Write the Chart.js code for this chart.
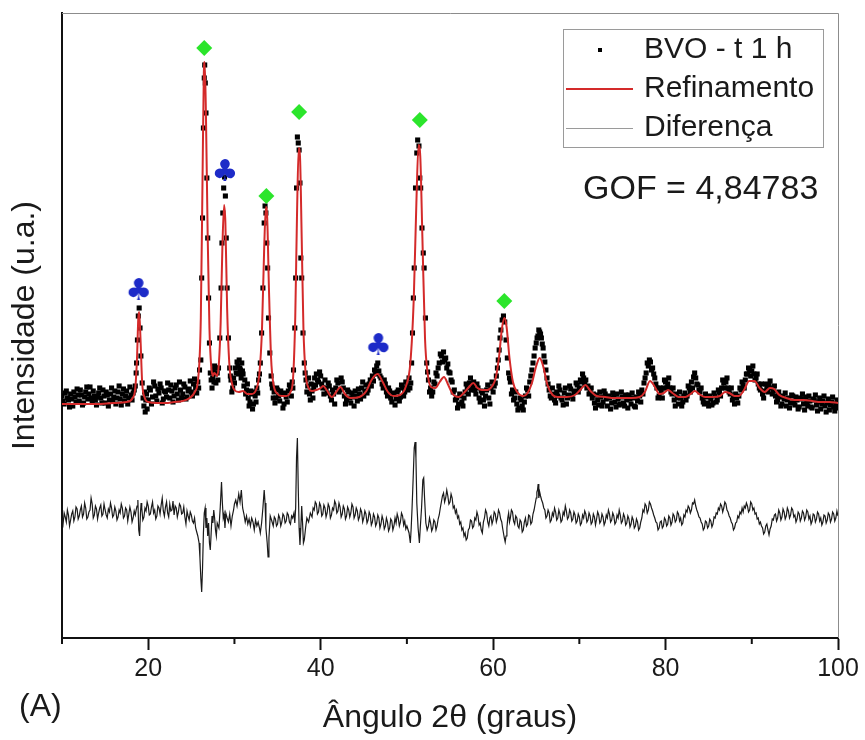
<!DOCTYPE html>
<html>
<head>
<meta charset="utf-8">
<script src="https://cdn.jsdelivr.net/npm/chart.js@4.4.0/dist/chart.umd.min.js"></script>
<style>
  html, body { margin: 0; padding: 0; background: #fff; }
  #wrap { width: 865px; height: 740px; }
</style>
</head>
<body>
<div id="wrap"><canvas id="xrd" width="865" height="740"></canvas></div>
<script>
// 2theta (graus), intensidade (u.a.)
const observed = [
  [10.000,22],[10.125,17],[10.250,14],[10.375,25],[10.500,27],[10.625,20],[10.750,18],[10.875,11],[11.000,24],[11.125,19],[11.250,12],[11.375,26],[11.500,21],[11.625,16],[11.750,29],[11.875,23],
  [12.000,17],[12.125,28],[12.250,23],[12.375,13],[12.500,15],[12.625,21],[12.750,26],[12.875,31],[13.000,19],[13.125,24],[13.250,31],[13.375,20],[13.500,16],[13.625,27],[13.750,22],[13.875,18],
  [14.000,13],[14.125,21],[14.250,25],[14.375,30],[14.500,20],[14.625,15],[14.750,28],[14.875,22],[15.000,15],[15.125,26],[15.250,23],[15.375,12],[15.500,18],[15.625,24],[15.750,30],[15.875,17],
  [16.000,21],[16.125,27],[16.250,14],[16.375,20],[16.500,26],[16.625,32],[16.750,19],[16.875,13],[17.000,24],[17.125,29],[17.250,17],[17.375,22],[17.500,27],[17.625,14],[17.750,20],[17.875,31],
  [18.000,23],[18.125,18],[18.250,25],[18.375,28],
  [18.50,32],[18.60,45],[18.65,55],[18.75,78],[18.85,102],[18.95,110],[19.05,90],[19.15,62],[19.30,35],[19.40,20],[19.50,12],[19.575,26],[19.65,6],[19.725,18],[19.80,24],[19.875,9],
  [20.000,18],[20.125,30],[20.250,28],[20.375,14],[20.500,21],[20.625,36],[20.750,32],[20.875,22],[21.000,17],[21.125,29],[21.250,25],[21.375,34],[21.500,30],[21.625,15],[21.750,19],[21.875,27],
  [22.000,26],[22.125,21],[22.250,35],[22.375,28],[22.500,20],[22.625,33],[22.750,27],[22.875,16],[23.000,22],[23.125,30],[23.250,33],[23.375,24],[23.500,18],[23.625,36],[23.750,28],[23.875,20],
  [24.000,24],[24.125,34],[24.250,31],[24.375,19],[24.500,21],[24.625,27],[24.750,29],[24.875,37],[25.000,26],[25.125,22],[25.250,34],[25.375,39],[25.500,30],[25.625,25],
  [25.75,36],[25.85,30],[25.95,48],[26.10,58],[26.20,140],[26.30,200],[26.40,290],[26.50,340],[26.55,353],[26.62,335],[26.70,305],[26.80,240],[26.90,180],[27.00,120],[27.10,75],[27.20,45],
  [27.30,38],[27.40,30],[27.475,40],[27.55,48],[27.625,36],[27.70,52],[27.775,44],[27.85,35],[27.925,50],[28.00,45],[28.075,38],
  [28.15,50],[28.30,80],[28.45,130],[28.55,175],[28.65,205],[28.75,230],[28.85,241],[28.95,222],[29.05,180],[29.15,130],[29.30,80],[29.45,50],[29.525,42],[29.60,38],[29.70,26],[29.80,30],[29.90,40],
  [30.00,35],[30.10,50],[30.20,45],[30.30,56],[30.40,52],[30.475,44],[30.55,58],[30.625,50],[30.70,48],[30.775,40],[30.85,55],[30.925,47],[31.00,44],[31.10,32],[31.20,38],[31.30,24],[31.40,28],
  [31.50,34],[31.60,20],[31.70,12],[31.80,16],[31.90,27],[32.00,24],[32.10,9],[32.20,14],[32.30,26],[32.40,22],[32.50,16],[32.60,30],[32.70,25],[32.80,38],[32.90,44],
  [33.00,55],[33.15,85],[33.30,130],[33.45,195],[33.55,212],[33.65,205],[33.75,175],[33.85,150],[33.95,100],[34.10,65],[34.25,42],[34.325,34],[34.40,30],[34.50,20],[34.60,26],[34.70,15],
  [34.80,20],[34.90,30],[35.00,28],[35.125,22],[35.25,17],[35.375,27],[35.50,24],[35.625,10],[35.75,14],[35.875,25],[36.00,21],[36.125,16],[36.25,27],[36.375,33],[36.50,30],[36.60,22],[36.70,36],[36.775,30],
  [36.85,48],[37.00,90],[37.10,140],[37.20,230],[37.30,281],[37.40,275],[37.50,268],[37.60,235],[37.70,160],[37.80,140],[37.95,85],[38.10,55],[38.20,45],[38.30,38],[38.40,26],[38.50,32],
  [38.60,40],[38.70,24],[38.80,18],[38.90,34],[39.00,27],[39.10,20],[39.20,30],
  [39.30,40],[39.40,33],[39.50,44],[39.625,38],[39.75,36],[39.875,46],[40.00,42],[40.125,34],[40.25,30],[40.375,24],[40.50,38],[40.625,30],[40.75,25],[40.875,35],[41.00,32],[41.125,22],
  [41.25,18],[41.375,28],[41.50,24],[41.625,14],[41.75,30],[41.875,38],[42.00,35],[42.125,26],[42.25,28],[42.375,40],[42.50,36],[42.625,30],[42.75,22],[42.875,14],[43.00,18],[43.125,28],
  [43.25,26],[43.375,20],[43.50,15],[43.625,25],[43.75,21],[43.875,12],[44.00,27],[44.125,22],[44.25,17],[44.375,29],[44.50,24],[44.625,19],[44.75,30],[44.875,36],[45.00,22],[45.125,27],
  [45.25,33],[45.375,25],[45.50,28],[45.625,34],
  [45.75,38],[45.875,32],[46.00,42],[46.125,37],[46.25,48],[46.375,44],[46.50,52],[46.625,55],[46.75,47],[46.875,42],[47.00,40],[47.125,34],[47.25,30],[47.375,38],[47.50,34],[47.625,26],
  [47.75,22],[47.875,30],[48.00,27],[48.125,20],[48.25,16],[48.375,25],[48.50,24],[48.625,13],[48.75,19],[48.875,26],[49.00,28],[49.125,17],[49.25,21],[49.375,33],[49.50,30],[49.625,22],
  [49.75,26],[49.875,36],
  [50.00,32],[50.125,28],[50.25,40],[50.35,30],[50.45,35],[50.55,55],[50.65,85],[50.75,120],[50.85,150],[51.00,230],[51.15,265],[51.25,278],[51.40,272],[51.50,240],[51.60,230],[51.75,190],
  [51.90,165],[52.00,150],[52.15,100],[52.30,55],[52.40,46],[52.50,38],[52.625,26],[52.75,30],[52.875,22],[53.00,26],[53.125,36],[53.25,34],[53.375,45],
  [53.50,42],[53.625,50],[53.75,55],[53.875,64],[54.00,62],[54.125,56],[54.25,66],[54.375,58],[54.50,60],[54.625,50],[54.75,54],[54.875,46],[55.00,45],[55.125,38],[55.25,36],[55.375,26],
  [55.50,28],[55.625,18],[55.75,20],[55.875,10],[56.00,14],[56.125,24],[56.25,22],[56.375,16],[56.50,12],[56.625,20],[56.75,26],[56.875,34],[57.00,30],[57.125,24],[57.25,35],[57.375,40],
  [57.50,28],[57.625,32],[57.75,36],[57.875,28],[58.00,24],[58.125,34],[58.25,30],[58.375,20],[58.50,16],[58.625,27],[58.75,25],[58.875,18],[59.00,12],[59.125,22],[59.25,28],[59.375,33],
  [59.50,20],[59.625,14],[59.75,30],[59.875,36],[60.00,26],[60.125,32],
  [60.25,35],[60.375,42],[60.50,50],[60.60,58],[60.70,68],[60.80,80],[60.90,88],[61.05,98],[61.20,102],[61.35,96],[61.50,78],[61.65,60],[61.80,45],[61.90,40],[62.00,36],[62.125,24],
  [62.25,28],[62.375,18],[62.50,20],[62.625,26],[62.75,14],[62.875,8],[63.00,10],[63.125,20],[63.25,18],[63.375,12],[63.50,8],[63.625,16],[63.75,22],[63.875,30],[64.00,28],[64.125,22],
  [64.25,36],[64.375,42],
  [64.50,48],[64.625,55],[64.75,62],[64.875,70],[65.00,75],[65.10,80],[65.20,82],[65.30,88],[65.40,86],[65.50,84],[65.60,80],[65.70,74],[65.80,70],[65.90,62],[66.00,56],[66.125,48],
  [66.25,40],[66.375,34],[66.50,28],[66.625,22],[66.75,20],[66.875,30],[67.00,24],[67.125,18],[67.25,15],[67.375,26],[67.50,22],[67.625,32],[67.75,28],[67.875,20],[68.00,18],[68.125,13],
  [68.25,25],[68.375,30],[68.50,14],[68.625,20],[68.75,23],[68.875,32],[69.00,29],[69.125,22],[69.25,19],[69.375,26],[69.50,27],[69.625,35],[69.75,33],[69.875,26],
  [70.00,30],[70.125,38],[70.25,36],[70.375,44],[70.50,40],[70.625,34],[70.75,38],[70.875,30],[71.00,32],[71.125,24],[71.25,26],[71.375,30],[71.50,20],[71.625,24],[71.75,15],[71.875,10],
  [72.00,23],[72.125,18],[72.25,13],[72.375,26],[72.50,21],[72.625,12],[72.75,16],[72.875,27],[73.00,24],[73.125,19],[73.25,12],[73.375,22],[73.50,20],[73.625,9],[73.75,15],[73.875,25],
  [74.00,22],[74.125,16],[74.25,11],[74.375,24],[74.50,19],[74.625,13],[74.75,14],[74.875,26],[75.00,21],[75.125,15],[75.25,12],[75.375,23],[75.50,18],[75.625,10],[75.75,23],[75.875,19],
  [76.00,14],[76.125,25],[76.25,20],[76.375,12],[76.50,11],[76.625,21],[76.75,17],[76.875,26],[77.00,22],[77.125,16],
  [77.25,28],[77.375,24],[77.50,35],[77.625,40],[77.75,45],[77.875,55],[78.00,52],[78.125,58],[78.25,56],[78.375,48],[78.50,50],[78.625,44],[78.75,40],[78.875,34],[79.00,30],[79.125,20],
  [79.25,22],[79.375,30],[79.50,26],[79.625,20],[79.75,30],[79.875,38],[80.00,36],[80.125,30],[80.25,34],[80.375,40],[80.50,30],[80.625,26],[80.75,24],[80.875,30],[81.00,18],[81.125,12],
  [81.25,24],[81.375,20],[81.50,14],[81.625,26],[81.75,20],[81.875,12],[82.00,16],[82.125,22],[82.25,25],[82.375,18],[82.50,22],[82.625,32],[82.75,30],[82.875,26],
  [83.00,36],[83.125,30],[83.25,41],[83.375,45],[83.50,40],[83.625,34],[83.75,33],[83.875,28],[84.00,26],[84.125,30],[84.25,20],[84.375,16],[84.50,14],[84.625,24],[84.75,21],[84.875,15],
  [85.00,12],[85.125,22],[85.25,19],[85.375,13],[85.50,15],[85.625,25],[85.75,22],[85.875,16],[86.00,18],[86.125,28],[86.25,26],[86.375,22],
  [86.50,30],[86.625,38],[86.75,35],[86.875,30],[87.00,36],[87.125,40],[87.25,30],[87.375,26],[87.50,24],[87.625,30],[87.75,18],[87.875,22],[88.00,14],[88.125,24],[88.25,20],[88.375,15],
  [88.50,22],[88.625,30],
  [88.75,28],[88.875,36],[89.00,33],[89.125,30],[89.25,38],[89.375,44],[89.50,44],[89.625,50],[89.75,48],[89.875,42],[90.00,47],[90.125,52],[90.25,44],[90.375,38],[90.50,40],[90.625,44],
  [90.75,34],[90.875,30],[91.00,28],[91.125,34],[91.25,24],[91.375,20],[91.50,27],[91.625,34],[91.75,31],[91.875,26],[92.00,33],[92.125,37],[92.25,30],[92.375,24],[92.50,27],[92.625,32],
  [92.75,22],[92.875,16],[93.00,18],[93.125,26],
  [93.25,21],[93.375,12],[93.50,14],[93.625,22],[93.75,19],[93.875,25],[94.00,12],[94.125,18],[94.25,20],[94.375,10],[94.50,15],[94.625,23],[94.75,22],[94.875,16],[95.00,13],[95.125,21],
  [95.25,18],[95.375,9],[95.50,11],[95.625,20],[95.75,19],[95.875,24],[96.00,14],[96.125,8],[96.25,21],[96.375,16],[96.50,12],[96.625,22],[96.75,17],[96.875,11],[97.00,10],[97.125,19],
  [97.25,18],[97.375,23],[97.50,13],[97.625,7],[97.75,16],[97.875,20],[98.00,9],[98.125,14],[98.25,17],[98.375,22],[98.50,12],[98.625,6],[98.75,15],[98.875,19],[99.00,8],[99.125,13],
  [99.25,16],[99.375,21],[99.50,11],[99.625,7],[99.75,14],[99.875,18],[100.00,10]
];

const calculated = [
  [10.0,14],[12.0,14],[14.0,14],[16.0,15],[17.5,16],[18.2,20],[18.5,30],[18.7,60],[18.85,100],[18.95,106],[19.1,80],[19.3,35],[19.6,20],[20.0,16],[21.0,15],[22.0,15],[23.0,16],[24.0,17],[24.8,20],
  [25.4,26],[25.8,40],[26.1,100],[26.3,240],[26.45,345],[26.55,356],[26.7,300],[26.9,180],[27.1,90],[27.3,52],[27.5,42],[27.65,45],[27.8,44],[28.0,42],
  [28.2,55],[28.4,95],[28.6,170],[28.8,213],[28.95,195],[29.15,110],[29.4,55],[29.7,35],[30.0,28],[30.5,26],[31.0,27],[31.5,24],[32.0,24],[32.5,28],
  [32.9,45],[33.2,90],[33.45,170],[33.65,211],[33.8,200],[34.0,130],[34.25,60],[34.5,35],[35.0,24],[35.5,22],[36.0,22],[36.5,26],
  [36.8,40],[37.05,100],[37.25,200],[37.45,270],[37.6,262],[37.8,180],[38.0,90],[38.25,45],[38.6,30],[39.0,27],[39.5,28],[40.0,30],[40.3,32],[40.7,28],
  [41.3,21],[41.8,26],[42.3,31],[42.8,24],[43.5,20],[44.5,21],[45.3,27],[45.9,38],[46.6,44],[47.2,36],[47.8,26],[48.5,22],[49.2,23],
  [49.9,32],[50.4,55],[50.8,120],[51.1,215],[51.35,273],[51.55,262],[51.8,180],[52.1,80],[52.4,45],[52.8,31],[53.3,30],[53.8,36],[54.3,41],[54.8,33],[55.3,24],
  [56.0,21],[56.7,26],[57.2,31],[57.7,35],[58.2,30],[58.7,28],[59.3,28],[59.9,32],[60.3,40],[60.7,62],[61.0,88],[61.3,100],[61.55,92],[61.9,60],[62.3,36],[62.8,26],
  [63.5,22],[64.0,25],[64.5,35],[65.0,52],[65.4,60],[65.8,52],[66.3,33],[66.9,23],[67.5,21],[68.5,21],[69.5,23],[70.2,29],[70.7,33],[71.3,27],[72.0,22],
  [73.0,21],[74.0,20],[75.0,20],[76.0,20],[77.0,21],[77.6,26],[78.2,37],[78.7,32],[79.3,24],[79.8,25],[80.3,28],[80.8,25],[81.5,21],[82.3,21],[82.9,24],
  [83.4,27],[83.9,24],[84.6,21],[85.5,21],[86.3,22],[86.9,26],[87.4,25],[88.0,22],[88.5,22],[89.1,28],[89.7,37],[90.3,37],[90.9,30],[91.5,26],[92.1,30],
  [92.6,29],[93.2,23],[94.0,20],[95.0,18],[96.0,18],[97.0,17],[98.0,16],[99.0,16],[100.0,15]
];

// difference curve, drawn with its own offset below the pattern
const difference = [
  [10.000,-100],[10.125,-106],[10.250,-95],[10.375,-99],[10.500,-104],[10.625,-92],[10.750,-97],[10.875,-108],[11.000,-102],[11.125,-96],[11.250,-93],[11.375,-103],[11.500,-99],[11.625,-89],[11.750,-91],[11.875,-101],
  [12.000,-98],[12.125,-92],[12.250,-88],[12.375,-99],[12.500,-96],[12.625,-85],[12.750,-90],[12.875,-101],[13.000,-99],[13.125,-94],[13.250,-92],[13.375,-80],[13.500,-86],[13.625,-100],[13.750,-97],[13.875,-88],
  [14.000,-91],[14.125,-101],[14.250,-95],[14.375,-90],[14.500,-87],[14.625,-98],[14.750,-96],[14.875,-86],[15.000,-92],[15.125,-97],[15.250,-100],[15.375,-91],[15.500,-94],[15.625,-85],[15.750,-90],[15.875,-99],
  [16.000,-97],[16.125,-89],[16.250,-93],[16.375,-102],[16.500,-99],[16.625,-92],[16.750,-95],[16.875,-86],[17.000,-90],[17.125,-100],[17.250,-98],[17.375,-90],[17.500,-92],[17.625,-103],[17.750,-96],[17.875,-89],
  [18.000,-94],[18.125,-104],[18.250,-100],[18.375,-93],[18.500,-97],[18.600,-92],[18.700,-88],[18.800,-82],[18.900,-112],[19.000,-118],[19.100,-95],[19.175,-85],[19.250,-90],[19.375,-102],[19.500,-99],[19.625,-90],
  [19.750,-93],[19.875,-84],[20.000,-88],[20.125,-97],[20.250,-96],[20.375,-89],[20.500,-84],[20.625,-95],[20.750,-92],[20.875,-101],[21.000,-98],[21.125,-88],[21.250,-90],[21.375,-96],[21.500,-87],[21.625,-80],
  [21.750,-93],[21.875,-98],[22.000,-89],[22.125,-84],[22.250,-95],[22.375,-99],[22.500,-86],[22.625,-93],[22.750,-92],[22.875,-83],[23.000,-97],[23.125,-88],[23.250,-90],[23.375,-99],[23.500,-94],[23.625,-86],
  [23.750,-88],[23.875,-96],[24.000,-95],[24.125,-89],[24.250,-99],[24.375,-106],[24.500,-93],[24.625,-98],[24.750,-102],[24.875,-94],[25.000,-97],[25.125,-103],[25.250,-105],[25.375,-100],[25.500,-110],[25.625,-114],
  [25.75,-118],[25.90,-125],[26.00,-140],[26.10,-160],[26.20,-174],[26.30,-150],[26.40,-115],[26.50,-95],[26.60,-90],[26.70,-110],[26.80,-100],[26.90,-118],[27.00,-105],[27.10,-125],[27.20,-132],[27.30,-115],
  [27.40,-98],[27.50,-105],[27.60,-92],[27.70,-100],[27.80,-112],[27.90,-118],[28.00,-105],[28.20,-110],[28.35,-90],[28.50,-64],[28.60,-85],[28.70,-100],[28.80,-96],[28.90,-110],[29.00,-95],[29.15,-100],
  [29.30,-104],[29.45,-96],[29.60,-108],[29.75,-98],[29.90,-92],[30.00,-86],[30.15,-82],[30.30,-88],[30.50,-76],[30.65,-84],[30.80,-72],[30.95,-90],[31.10,-96],[31.25,-104],[31.40,-98],[31.55,-106],
  [31.70,-101],[31.85,-108],[32.00,-100],[32.15,-104],[32.30,-112],[32.45,-102],[32.60,-108],[32.75,-104],[32.90,-110],[33.00,-115],[33.15,-105],[33.30,-90],[33.45,-72],[33.55,-85],[33.65,-110],[33.80,-125],
  [33.90,-139],[34.00,-120],[34.15,-98],[34.30,-102],[34.50,-108],[34.625,-99],[34.75,-101],[34.875,-108],[35.00,-106],[35.125,-97],[35.25,-100],[35.375,-108],[35.50,-104],[35.625,-96],[35.75,-98],[35.875,-105],
  [36.00,-103],[36.125,-95],[36.25,-97],[36.375,-104],[36.50,-106],[36.625,-98],[36.75,-100],[36.90,-95],[37.00,-105],[37.10,-90],[37.20,-40],[37.30,-20],[37.40,-70],[37.50,-110],[37.60,-127],[37.70,-110],
  [37.80,-88],[37.90,-105],[38.00,-125],[38.10,-122],[38.25,-110],[38.40,-100],[38.60,-104],[38.80,-95],[39.00,-99],[39.125,-90],[39.25,-92],[39.375,-84],[39.50,-86],[39.625,-96],[39.75,-94],[39.875,-85],
  [40.00,-88],[40.125,-98],[40.25,-96],[40.375,-87],[40.50,-90],[40.625,-99],[40.75,-95],[40.875,-86],[41.00,-89],[41.125,-100],[41.25,-97],[41.375,-90],[41.50,-92],[41.625,-83],[41.75,-86],[41.875,-95],
  [42.00,-93],[42.125,-85],[42.25,-89],[42.375,-99],[42.50,-96],[42.625,-88],[42.75,-91],[42.875,-101],[43.00,-98],[43.125,-89],[43.25,-92],[43.375,-99],[43.50,-95],[43.625,-86],[43.75,-89],[43.875,-100],
  [44.00,-97],[44.125,-90],[44.25,-93],[44.375,-102],[44.50,-99],[44.625,-91],[44.75,-94],[44.875,-104],[45.00,-100],[45.125,-93],[45.25,-96],[45.375,-105],[45.50,-102],[45.625,-94],[45.75,-97],[45.875,-107],
  [46.00,-104],[46.125,-96],[46.25,-99],[46.375,-108],[46.50,-105],[46.625,-97],[46.75,-100],[46.875,-110],[47.00,-106],[47.125,-98],[47.25,-102],[47.375,-111],[47.50,-108],[47.625,-100],[47.75,-104],[47.875,-113],
  [48.00,-110],[48.125,-101],[48.25,-103],[48.375,-112],[48.50,-108],[48.625,-100],[48.75,-105],[48.875,-96],[49.00,-100],[49.125,-108],[49.25,-104],[49.375,-95],[49.50,-98],[49.625,-107],[49.75,-103],[49.875,-111],
  [50.00,-108],[50.25,-115],[50.40,-125],[50.50,-110],[50.60,-90],[50.75,-55],[50.85,-30],[50.95,-24],[51.05,-40],[51.15,-85],[51.30,-110],[51.45,-125],[51.55,-110],[51.70,-90],[51.85,-62],[51.95,-60],
  [52.05,-80],[52.20,-105],[52.35,-112],[52.50,-108],[52.625,-100],[52.75,-105],[52.875,-113],[53.00,-110],[53.125,-102],[53.25,-104],[53.375,-112],[53.50,-108],[53.625,-101],
  [53.75,-97],[53.875,-90],[54.00,-84],[54.125,-78],[54.25,-75],[54.375,-84],[54.50,-80],[54.625,-72],[54.75,-78],[54.875,-86],[55.00,-84],[55.125,-76],[55.25,-80],[55.375,-90],[55.50,-88],[55.625,-95],
  [55.75,-92],[55.875,-100],[56.00,-98],[56.125,-106],[56.25,-104],[56.375,-112],[56.50,-110],[56.625,-118],[56.75,-115],[56.875,-122],[57.00,-120],[57.125,-112],[57.25,-110],[57.375,-102],[57.50,-103],[57.625,-110],
  [57.75,-108],[57.875,-100],[58.00,-102],[58.125,-94],[58.25,-98],[58.375,-107],[58.50,-105],[58.625,-112],[58.75,-115],[58.875,-104],[59.00,-100],[59.125,-92],[59.25,-95],[59.375,-104],[59.50,-108],[59.625,-100],
  [59.75,-98],[59.875,-106],[60.00,-102],[60.125,-94],[60.25,-96],[60.375,-104],[60.50,-100],[60.625,-92],[60.75,-95],[60.875,-101],[61.00,-104],[61.10,-110],[61.20,-115],[61.30,-120],[61.40,-124],[61.50,-118],
  [61.60,-110],[61.70,-100],[61.80,-95],[61.90,-104],[62.00,-100],[62.125,-92],[62.25,-94],[62.375,-103],[62.50,-106],[62.625,-98],[62.75,-100],[62.875,-108],[63.00,-110],[63.125,-102],[63.25,-104],[63.375,-114],
  [63.50,-112],[63.625,-104],[63.75,-100],[63.875,-108],[64.00,-106],[64.125,-97],[64.25,-98],[64.375,-106],[64.50,-104],[64.625,-96],[64.75,-92],[64.875,-86],[65.00,-80],[65.075,-74],[65.15,-72],[65.225,-66],
  [65.30,-80],[65.40,-74],[65.50,-78],[65.625,-82],[65.75,-85],[65.875,-90],[66.00,-92],[66.125,-100],[66.25,-98],[66.375,-92],[66.50,-95],[66.625,-104],[66.75,-102],[66.875,-95],[67.00,-98],[67.125,-90],
  [67.25,-94],[67.375,-102],[67.50,-100],[67.625,-92],[67.75,-96],[67.875,-104],[68.00,-102],[68.125,-94],[68.25,-97],[68.375,-88],[68.50,-93],[68.625,-101],[68.75,-99],[68.875,-92],[69.00,-95],[69.125,-103],
  [69.25,-101],[69.375,-94],[69.50,-97],[69.625,-105],[69.75,-103],[69.875,-96],[70.00,-99],[70.125,-107],[70.25,-105],[70.375,-97],[70.50,-100],[70.625,-93],[70.75,-96],[70.875,-104],[71.00,-102],[71.125,-95],
  [71.25,-98],[71.375,-106],[71.50,-104],[71.625,-96],[71.75,-99],[71.875,-107],[72.00,-101],[72.125,-94],[72.25,-97],[72.375,-105],[72.50,-103],[72.625,-96],[72.75,-99],[72.875,-107],[73.00,-104],[73.125,-97],
  [73.25,-100],[73.375,-92],[73.50,-96],[73.625,-104],[73.75,-102],[73.875,-95],[74.00,-98],[74.125,-106],[74.25,-104],[74.375,-97],[74.50,-100],[74.625,-92],[74.75,-97],[74.875,-105],[75.00,-103],[75.125,-96],
  [75.25,-99],[75.375,-107],[75.50,-105],[75.625,-98],[75.75,-101],[75.875,-109],[76.00,-106],[76.125,-99],[76.25,-102],[76.375,-110],[76.50,-108],[76.625,-101],[76.75,-104],[76.875,-112],[77.00,-110],[77.125,-104],
  [77.25,-100],[77.375,-92],[77.50,-94],[77.625,-86],[77.75,-88],[77.875,-95],[78.00,-92],[78.125,-84],[78.25,-86],[78.375,-90],[78.50,-93],[78.625,-97],[78.75,-100],[78.875,-104],[79.00,-105],[79.125,-112],
  [79.25,-110],[79.375,-104],[79.50,-103],[79.625,-110],[79.75,-108],[79.875,-100],[80.00,-102],[80.125,-108],[80.25,-106],[80.375,-98],[80.50,-100],[80.625,-107],[80.75,-104],[80.875,-96],[81.00,-98],[81.125,-104],
  [81.25,-102],[81.375,-94],[81.50,-96],[81.625,-103],[81.75,-100],[81.875,-107],[82.00,-105],[82.125,-97],[82.25,-99],[82.375,-92],[82.50,-94],[82.625,-88],[82.75,-90],[82.875,-95],[83.00,-92],[83.125,-85],
  [83.25,-86],[83.375,-82],[83.50,-88],[83.625,-92],[83.75,-95],[83.875,-99],[84.00,-100],[84.125,-104],[84.25,-106],[84.375,-112],[84.50,-110],[84.625,-103],[84.75,-104],[84.875,-110],[85.00,-108],[85.125,-101],
  [85.25,-103],[85.375,-109],[85.50,-106],[85.625,-99],[85.75,-100],[85.875,-95],[86.00,-96],[86.125,-90],[86.25,-92],[86.375,-86],[86.50,-88],[86.625,-94],[86.75,-90],[86.875,-84],[87.00,-86],[87.125,-92],
  [87.25,-94],[87.375,-98],[87.50,-100],[87.625,-104],[87.75,-106],[87.875,-112],[88.00,-110],[88.125,-105],[88.25,-104],[88.375,-98],[88.50,-100],[88.625,-94],[88.75,-96],[88.875,-90],[89.00,-94],[89.125,-88],
  [89.25,-90],[89.375,-85],[89.50,-88],[89.625,-94],[89.75,-92],[89.875,-84],[90.00,-86],[90.125,-92],[90.25,-90],[90.375,-96],[90.50,-95],[90.625,-101],[90.75,-100],[90.875,-106],[91.00,-104],[91.125,-108],
  [91.25,-110],[91.375,-116],[91.50,-114],[91.625,-108],[91.75,-106],[91.875,-112],[92.00,-117],[92.125,-111],[92.25,-108],[92.375,-101],[92.50,-102],[92.625,-97],[92.75,-96],[92.875,-103],[93.00,-100],[93.125,-92],
  [93.25,-95],[93.375,-102],[93.50,-99],[93.625,-91],[93.75,-94],[93.875,-101],[94.00,-98],[94.125,-90],[94.25,-93],[94.375,-100],[94.50,-97],[94.625,-90],[94.75,-92],[94.875,-99],[95.00,-97],[95.125,-104],
  [95.25,-101],[95.375,-94],[95.50,-96],[95.625,-103],[95.75,-100],[95.875,-93],[96.00,-95],[96.125,-102],[96.25,-99],[96.375,-92],[96.50,-94],[96.625,-101],[96.75,-98],[96.875,-106],[97.00,-103],[97.125,-96],
  [97.25,-97],[97.375,-104],[97.50,-101],[97.625,-94],[97.75,-96],[97.875,-103],[98.00,-100],[98.125,-107],[98.25,-104],[98.375,-97],[98.50,-98],[98.625,-105],[98.75,-102],[98.875,-95],[99.00,-97],[99.125,-104],
  [99.25,-101],[99.375,-94],[99.50,-96],[99.625,-103],[99.75,-100],[99.875,-93],[100.00,-98]
];

// phase markers above the reflections
const diamondAngle = [26.5, 33.7, 37.5, 51.5, 61.3];
const diamondInt = [370, 222, 306, 298, 117];
const clubAngle = [18.9, 28.9, 46.7];
const clubInt = [127, 246, 72];

const minorTicks = [10, 30, 50, 70, 90];
const gofText = 'GOF = 4,84783';
const panelLabel = '(A)';

const FONT = '"Liberation Sans", Arial, sans-serif';
const toXY = pts => pts.map(p => ({ x: p[0], y: p[1] }));

function clubGlyph() {
  const c = document.createElement('canvas');
  c.width = 30;
  c.height = 30;
  const g = c.getContext('2d');
  g.fillStyle = '#1d2bc8';
  g.font = '30px "DejaVu Sans"';
  g.textAlign = 'center';
  g.textBaseline = 'middle';
  g.fillText('\u2663', 15, 16);
  return c;
}

const decor = {
  id: 'decor',
  afterDraw(chart) {
    const { ctx, chartArea: a, scales: { x } } = chart;
    const ds = chart.data.datasets;
    ctx.save();

    // thin top / right frame
    ctx.strokeStyle = '#8c8c8c';
    ctx.lineWidth = 1;
    ctx.beginPath();
    ctx.moveTo(a.left, a.top + 0.5);
    ctx.lineTo(a.right + 0.5, a.top + 0.5);
    ctx.lineTo(a.right + 0.5, a.bottom);
    ctx.stroke();

    // minor ticks
    ctx.strokeStyle = '#111';
    ctx.lineWidth = 2;
    minorTicks.forEach(v => {
      const px = x.getPixelForValue(v);
      ctx.beginPath();
      ctx.moveTo(px, a.bottom);
      ctx.lineTo(px, a.bottom + 6);
      ctx.stroke();
    });

    // legend
    ctx.strokeStyle = '#9a9a9a';
    ctx.lineWidth = 1;
    ctx.strokeRect(563.5, 29.5, 260, 118);
    ctx.fillStyle = '#000';
    ctx.fillRect(598, 48, 4, 4);
    ctx.strokeStyle = ds[1].borderColor;
    ctx.lineWidth = 2;
    ctx.beginPath(); ctx.moveTo(566, 89); ctx.lineTo(633, 89); ctx.stroke();
    ctx.strokeStyle = '#9a9a9a';
    ctx.lineWidth = 1;
    ctx.beginPath(); ctx.moveTo(566, 128.5); ctx.lineTo(633, 128.5); ctx.stroke();
    ctx.fillStyle = '#1a1a1a';
    ctx.font = '30px ' + FONT;
    ctx.textBaseline = 'middle';
    ctx.fillText(ds[0].label, 644, 50);
    ctx.fillText(ds[1].label, 644, 89);
    ctx.fillText(ds[2].label, 644, 128);

    // GOF and panel label
    ctx.font = '34px ' + FONT;
    ctx.fillText(gofText, 583, 190);
    ctx.font = '32px ' + FONT;
    ctx.fillText(panelLabel, 19, 707);
    ctx.restore();
  }
};

new Chart(document.getElementById('xrd'), {
  type: 'scatter',
  data: {
    datasets: [
      {
        label: 'BVO - t 1 h',
        data: toXY(observed),
        showLine: false,
        pointStyle: 'rect',
        pointRadius: 3.6,
        backgroundColor: '#000',
        borderWidth: 0,
        order: 3
      },
      {
        label: 'Refinamento',
        data: toXY(calculated),
        showLine: true,
        borderColor: '#d42a2a',
        borderWidth: 2,
        pointRadius: 0,
        cubicInterpolationMode: 'monotone',
        order: 1
      },
      {
        label: 'Diferença',
        data: toXY(difference),
        showLine: true,
        borderColor: '#1a1a1a',
        borderWidth: 1.2,
        pointRadius: 0,
        order: 2
      },
      {
        label: 'diamond',
        data: diamondAngle.map((a, i) => ({ x: a, y: diamondInt[i] })),
        pointStyle: 'rectRot',
        pointRadius: 8,
        backgroundColor: '#2be52b',
        borderWidth: 0,
        order: 0
      },
      {
        label: 'club',
        data: clubAngle.map((a, i) => ({ x: a, y: clubInt[i] })),
        pointStyle: clubGlyph(),
        order: 0
      }
    ]
  },
  options: {
    responsive: false,
    animation: false,
    devicePixelRatio: 1,
    layout: { padding: { top: 13, right: 27, left: 0, bottom: 0 } },
    plugins: { legend: { display: false }, tooltip: { enabled: false } },
    scales: {
      x: {
        type: 'linear',
        min: 10,
        max: 100,
        ticks: {
          stepSize: 10,
          autoSkip: false,
          maxRotation: 0,
          padding: 4,
          color: '#1a1a1a',
          font: { family: FONT, size: 25 },
          callback: v => (v % 20 === 0 ? v : '')
        },
        grid: {
          drawOnChartArea: false,
          drawTicks: true,
          tickLength: 12,
          tickWidth: 2,
          tickColor: ctx => (ctx.tick && ctx.tick.value % 20 === 0 ? '#111' : 'rgba(0,0,0,0)')
        },
        border: { display: true, color: '#111', width: 2 },
        title: {
          display: true,
          text: 'Ângulo 2θ (graus)',
          color: '#1a1a1a',
          font: { family: FONT, size: 32 },
          padding: { top: 0, bottom: 3 }
        },
        afterFit: s => { s.height = 102; }
      },
      y: {
        min: -220,
        max: 405,
        ticks: { display: false },
        grid: { drawOnChartArea: false, drawTicks: false },
        border: { display: true, color: '#111', width: 2 },
        title: {
          display: true,
          text: 'Intensidade (u.a.)',
          color: '#1a1a1a',
          font: { family: FONT, size: 32 },
          padding: { top: 6, bottom: 0 }
        },
        afterFit: s => { s.width = 62; }
      }
    }
  },
  plugins: [decor]
});
</script>
</body>
</html>
